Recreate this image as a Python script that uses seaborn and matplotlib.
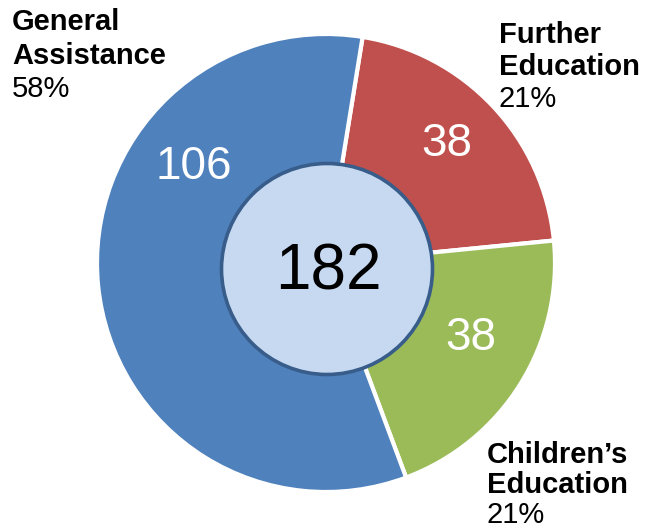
import matplotlib
matplotlib.use('Agg')
import matplotlib.pyplot as plt
import seaborn as sns
from matplotlib.patches import Circle

sns.set_theme(style='white')
plt.rcParams['font.family'] = ['Liberation Sans', 'DejaVu Sans']
plt.rcParams['text.color'] = 'black'

# slice data, in clockwise order starting near 12 o'clock
categories = ['Further\nEducation', 'Children\u2019s\nEducation', 'General\nAssistance']
values = [38, 38, 106]
colors = ['#C0504D', '#9BBB59', '#4F81BD']
total = sum(values)

W, H = 653, 531
fig = plt.figure(figsize=(W / 100, H / 100), dpi=100)
ax = fig.add_axes([0, 0, 1, 1])

def py(y):
    # pixel row (from top) -> data y
    return H - y

cx, cy, R = 326, 263, 229
ax.pie(values, colors=colors, startangle=80.8, counterclock=False,
       center=(cx, py(cy)), radius=R,
       wedgeprops=dict(edgecolor='white', linewidth=3))

# centre disc with the total
ax.add_patch(Circle((327, py(269)), 105.5, facecolor='#C6D9F1',
                    edgecolor='#385D8A', linewidth=2.6, zorder=5))
ax.text(328, py(272), str(total), fontsize=46, color='black',
        ha='center', va='center', zorder=6)

# values inside slices
inner_pos = [(447, 144), (471, 338), (194, 167)]
for v, (x, y) in zip(values, inner_pos):
    ax.text(x, py(y), str(v), fontsize=33, color='white',
            ha='center', va='center', zorder=6)

# outer labels: two bold lines + percentage
label_pos = [(499, [43, 75, 107]), (487, [463, 493, 523]), (12, [30, 64, 97])]
for cat, v, (x, ys) in zip(categories, values, label_pos):
    l1, l2 = cat.split('\n')
    pct = '{:.0f}%'.format(100 * v / total)
    ax.text(x, py(ys[0]), l1, fontsize=21, fontweight='bold', color='black',
            ha='left', va='baseline')
    ax.text(x, py(ys[1]), l2, fontsize=21, fontweight='bold', color='black',
            ha='left', va='baseline')
    ax.text(x, py(ys[2]), pct, fontsize=21, color='black',
            ha='left', va='baseline')

ax.set_xlim(0, W)
ax.set_ylim(0, H)
ax.set_aspect('equal')
ax.axis('off')

fig.savefig('out.png', dpi=100, facecolor='white')
